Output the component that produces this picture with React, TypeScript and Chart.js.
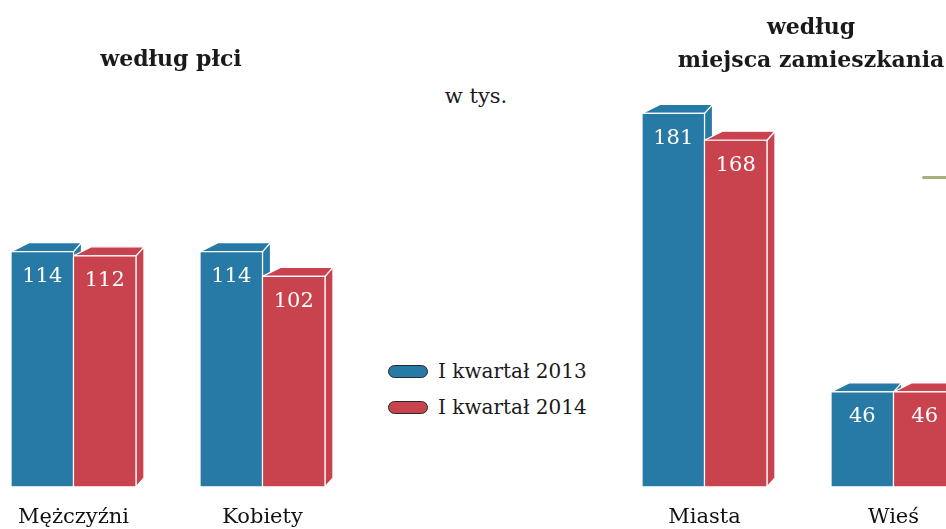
import React, { useEffect, useRef } from 'react';
import { Chart, registerables } from 'chart.js';

Chart.register(...registerables);

const seriesNames = ['I kwartał 2013', 'I kwartał 2014'];
const seriesColors = ['#2779a6', '#c9434f'];
const sexCategories = ['Mężczyźni', 'Kobiety'];
const sex2013 = [114, 114];
const sex2014 = [112, 102];
const placeCategories = ['Miasta', 'Wieś'];
const place2013 = [181, 46];
const place2014 = [168, 46];
const yMax = 236;

const FONT = '"DejaVu Serif", serif';
const DY = 9;
const LDX = 18;
const RDX = 8;
const CANVAS_H = 548;

const bar3d = {
  id: 'bar3d',
  afterDatasetsDraw(chart: any) {
    const ctx = chart.ctx as CanvasRenderingContext2D;
    const n = chart.data.labels.length;
    ctx.save();
    ctx.lineJoin = 'round';
    ctx.strokeStyle = '#ffffff';
    ctx.lineWidth = 1.2;
    const labels: any[] = [];
    for (let i = 0; i < n; i++) {
      chart.data.datasets.forEach((ds: any, di: number) => {
        const el = chart.getDatasetMeta(di).data[i];
        const { x, y, base, width } = el.getProps(['x', 'y', 'base', 'width'], true);
        const l = x - width / 2;
        const r = x + width / 2;
        ctx.fillStyle = ds.backgroundColor;
        // side face
        ctx.beginPath();
        ctx.moveTo(r, y);
        ctx.lineTo(r + RDX, y - DY);
        ctx.lineTo(r + RDX, base - DY);
        ctx.lineTo(r, base);
        ctx.closePath();
        ctx.fill();
        ctx.stroke();
        // top face
        ctx.beginPath();
        ctx.moveTo(l, y);
        ctx.lineTo(l + LDX, y - DY);
        ctx.lineTo(r + RDX, y - DY);
        ctx.lineTo(r, y);
        ctx.closePath();
        ctx.fill();
        ctx.stroke();
        // front face
        ctx.beginPath();
        ctx.rect(l, y, width, base - y);
        ctx.fill();
        ctx.stroke();
        labels.push({ x, y, v: ds.data[i] });
      });
    }
    ctx.fillStyle = '#ffffff';
    ctx.font = '21px ' + FONT;
    ctx.textAlign = 'center';
    ctx.textBaseline = 'middle';
    labels.forEach((lb) => ctx.fillText(String(lb.v), lb.x, lb.y + 25));
    ctx.restore();
  },
};

function BarPanel({ labels, a, b, left }: { labels: string[]; a: number[]; b: number[]; left: number }) {
  const ref = useRef<HTMLCanvasElement>(null);
  useEffect(() => {
    if (!ref.current) return;
    const chart = new Chart(ref.current, {
      type: 'bar',
      data: {
        labels,
        datasets: [
          { label: seriesNames[0], data: a, backgroundColor: seriesColors[0], borderWidth: 0 },
          { label: seriesNames[1], data: b, backgroundColor: seriesColors[1], borderWidth: 0 },
        ],
      },
      options: {
        responsive: false,
        animation: false,
        devicePixelRatio: 1,
        layout: { padding: 0 },
        datasets: { bar: { categoryPercentage: 0.661, barPercentage: 1 } },
        plugins: { legend: { display: false }, tooltip: { enabled: false }, title: { display: false } },
        scales: {
          x: {
            grid: { display: false, drawTicks: false },
            border: { display: false },
            ticks: {
              font: { family: FONT, size: 21 },
              color: '#111111',
              padding: 18,
              maxRotation: 0,
              autoSkip: false,
            },
          },
          y: { display: false, min: 0, max: yMax },
        },
      },
      plugins: [bar3d],
    } as any);
    return () => chart.destroy();
  }, []);
  return (
    <canvas
      ref={ref}
      width={378}
      height={CANVAS_H}
      style={{ position: 'absolute', left, top: 0, width: 378, height: CANVAS_H }}
    />
  );
}

function Pill({ color }: { color: string }) {
  return (
    <span
      style={{
        display: 'inline-block',
        width: 38,
        height: 11,
        borderRadius: 7,
        background: color,
        border: '1px solid #2a2a2a',
        marginRight: 10,
        verticalAlign: 'middle',
      }}
    />
  );
}

export default function App() {
  const text: React.CSSProperties = { position: 'absolute', fontFamily: FONT, color: '#1a1a1a', whiteSpace: 'nowrap' };
  return (
    <div
      style={{
        position: 'fixed',
        left: 0,
        top: 0,
        width: 946,
        height: 529,
        overflow: 'hidden',
        background: '#ffffff',
      }}
    >
      <BarPanel labels={sexCategories} a={sex2013} b={sex2014} left={-21} />
      <BarPanel labels={placeCategories} a={place2013} b={place2014} left={610} />
      <div style={{ ...text, left: 71, width: 200, top: 44, textAlign: 'center', fontWeight: 'bold', fontSize: 22, lineHeight: '28px' }}>
        według płci
      </div>
      <div style={{ ...text, left: 661, width: 300, top: 10, textAlign: 'center', fontWeight: 'bold', fontSize: 22, lineHeight: '33px' }}>
        według
        <br />
        miejsca zamieszkania
      </div>
      <div style={{ ...text, left: 426, width: 100, top: 83, textAlign: 'center', fontSize: 21, lineHeight: '26px' }}>
        w tys.
      </div>
      <div style={{ ...text, left: 388, top: 353, fontSize: 20, lineHeight: '36px' }}>
        {seriesNames.map((s, i) => (
          <div key={s} style={{ display: 'flex', alignItems: 'center', height: 36 }}>
            <Pill color={seriesColors[i]} />
            <span>{s}</span>
          </div>
        ))}
      </div>
      <div
        style={{
          position: 'absolute',
          left: 922,
          top: 176,
          width: 26,
          height: 3,
          background: '#a9ae7e',
          borderRadius: '3px 0 0 3px',
        }}
      />
    </div>
  );
}
